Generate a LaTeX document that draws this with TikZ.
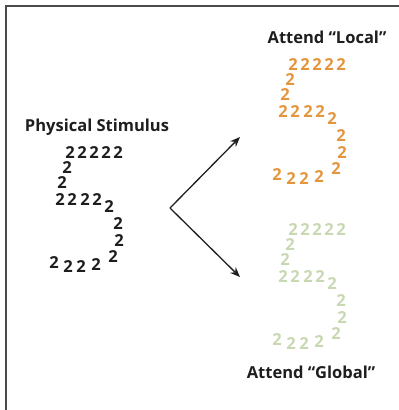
\documentclass[tikz,border=0pt]{standalone}
\usepackage{xcolor}
\usepackage{fontspec}
\setmainfont{Open Sans}
\usepackage{tikz}
\usetikzlibrary{arrows.meta}
\definecolor{localorange}{RGB}{228,150,62}
\definecolor{globalgreen}{RGB}{200,216,178}
\definecolor{inkgray}{RGB}{30,30,30}

\tikzset{
  title/.style={font=\bfseries\fontsize{16.5}{18}\selectfont, text=inkgray},
  digit/.style={font=\bfseries\fontsize{16.5}{18}\selectfont, inner sep=0pt}
}

% the digit 5 drawn out of 2s, placed at its top left corner
\newcommand{\twosfive}[1]{%
  \foreach \px/\py [count=\n] in {70/153,82/153,94/153,106/153,118/153,
      67/168,62/183,
      60/200,72/200,85/200,97/200,
      109/207,118/224,119/241,113/257,
      54/263,68/267,81/267,96/265}
    \node[digit, text=#1] (d\n) at (\px,\py) {2};%
}

\begin{document}
\begin{tikzpicture}[x=1pt, y=-1pt]
        \useasboundingbox (0,0) rectangle (399,410);
        \draw[line width=1.6pt, inkgray!80] (6,410) -- (6,6) -- (399,6);

        \node[title] (stimulus) at (97,127) {Physical Stimulus};
        \node[title] (local) at (327,37) {Attend ``Local''};
        \node[title] (global) at (311,372) {Attend ``Global''};

        \begin{scope}[name prefix=phys-]
            \twosfive{inkgray}
        \end{scope}
        \begin{scope}[shift={(223,-88)}, name prefix=loc-]
            \twosfive{localorange}
        \end{scope}
        \begin{scope}[shift={(223,77)}, name prefix=glob-]
            \twosfive{globalgreen}
        \end{scope}

        \coordinate (split) at (170,208);
        \coordinate (uptip) at (240,137);
        \coordinate (downtip) at (240,277);
        \draw[-{Stealth[length=10pt, width=8pt]}, line width=1.3pt, inkgray] (split) -- (uptip);
        \draw[-{Stealth[length=10pt, width=8pt]}, line width=1.3pt, inkgray] (split) -- (downtip);
    \end{tikzpicture}
\end{document}
